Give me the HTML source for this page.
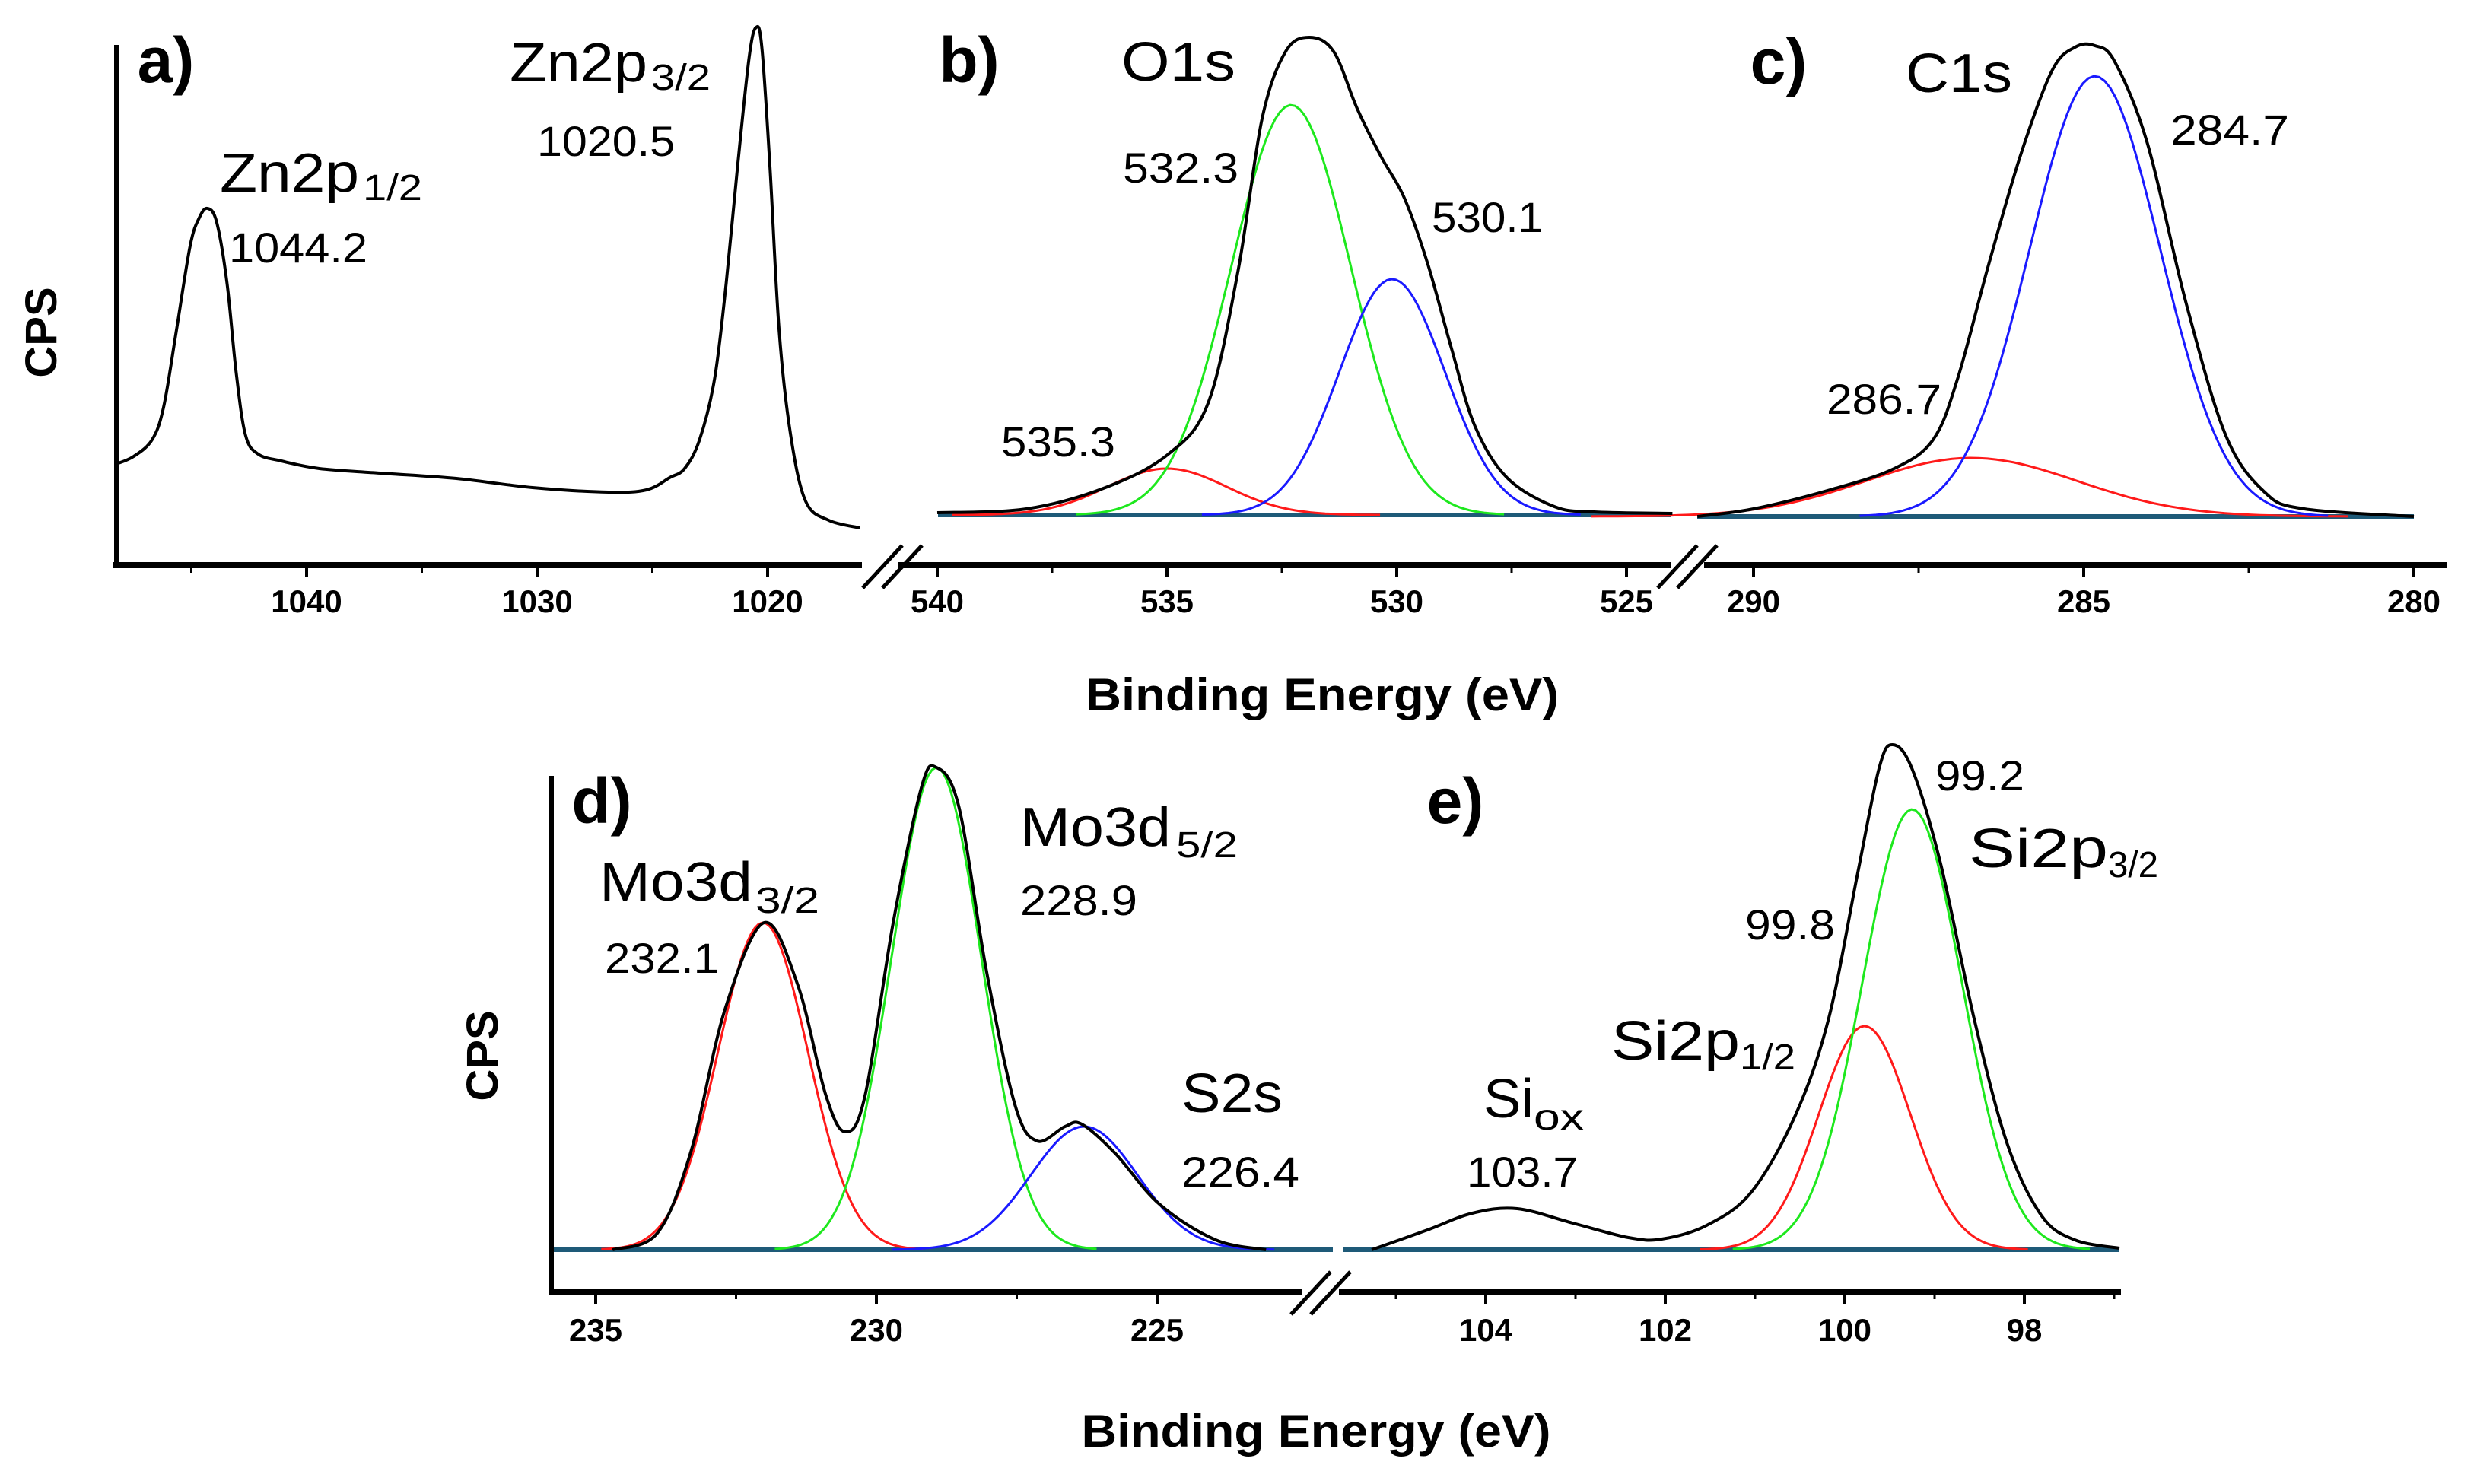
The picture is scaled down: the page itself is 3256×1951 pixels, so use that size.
<!DOCTYPE html>
<html><head><meta charset="utf-8"><title>XPS spectra</title>
<style>html,body{margin:0;padding:0;background:#fff;}svg{display:block;font-family:"Liberation Sans",Arial,sans-serif;}</style>
</head><body>
<svg id="fig" xmlns="http://www.w3.org/2000/svg" width="3256" height="1951" viewBox="0 0 3256 1951">
<rect width="3256" height="1951" fill="#fff"/>
<g id="marks"></g>
<g id="axes"></g>
<g id="texts">
  <text x="218" y="108" font-size="84" font-weight="bold" text-anchor="middle">a)</text>
  <text x="1274" y="108" font-size="84" font-weight="bold" text-anchor="middle">b)</text>
  <text x="2338" y="110" font-size="84" font-weight="bold" text-anchor="middle">c)</text>
  <text x="791" y="1082" font-size="84" font-weight="bold" text-anchor="middle">d)</text>
  <text x="1913" y="1082" font-size="84" font-weight="bold" text-anchor="middle">e)</text>

  <text x="670" y="107" font-size="72" textLength="181" lengthAdjust="spacingAndGlyphs">Zn2p</text>
  <text x="856" y="118" font-size="48" textLength="78" lengthAdjust="spacingAndGlyphs">3/2</text>
  <text x="706" y="205" font-size="56" textLength="181" lengthAdjust="spacingAndGlyphs">1020.5</text>
  <text x="289" y="252" font-size="72" textLength="183" lengthAdjust="spacingAndGlyphs">Zn2p</text>
  <text x="477" y="263" font-size="48" textLength="78" lengthAdjust="spacingAndGlyphs">1/2</text>
  <text x="301" y="345" font-size="56" textLength="182" lengthAdjust="spacingAndGlyphs">1044.2</text>

  <text x="1474" y="106" font-size="72" textLength="150" lengthAdjust="spacingAndGlyphs">O1s</text>
  <text x="1476" y="240" font-size="56" textLength="152" lengthAdjust="spacingAndGlyphs">532.3</text>
  <text x="1882" y="305" font-size="56" textLength="146" lengthAdjust="spacingAndGlyphs">530.1</text>
  <text x="1316" y="600" font-size="56" textLength="150" lengthAdjust="spacingAndGlyphs">535.3</text>

  <text x="2505" y="121" font-size="72" textLength="140" lengthAdjust="spacingAndGlyphs">C1s</text>
  <text x="2853" y="190" font-size="56" textLength="156" lengthAdjust="spacingAndGlyphs">284.7</text>
  <text x="2401" y="544" font-size="56" textLength="151" lengthAdjust="spacingAndGlyphs">286.7</text>

  <text x="788" y="1184" font-size="72" textLength="201" lengthAdjust="spacingAndGlyphs">Mo3d</text>
  <text x="993" y="1200" font-size="48" textLength="84" lengthAdjust="spacingAndGlyphs">3/2</text>
  <text x="795" y="1279" font-size="56" textLength="150" lengthAdjust="spacingAndGlyphs">232.1</text>
  <text x="1341" y="1112" font-size="72" textLength="198" lengthAdjust="spacingAndGlyphs">Mo3d</text>
  <text x="1546" y="1127" font-size="48" textLength="81" lengthAdjust="spacingAndGlyphs">5/2</text>
  <text x="1341" y="1203" font-size="56" textLength="154" lengthAdjust="spacingAndGlyphs">228.9</text>
  <text x="1553" y="1462" font-size="72" textLength="133" lengthAdjust="spacingAndGlyphs">S2s</text>
  <text x="1553" y="1560" font-size="56" textLength="155" lengthAdjust="spacingAndGlyphs">226.4</text>

  <text x="1950" y="1469" font-size="72" textLength="66" lengthAdjust="spacingAndGlyphs">Si</text>
  <text x="2016" y="1485" font-size="48" textLength="66" lengthAdjust="spacingAndGlyphs">ox</text>
  <text x="1928" y="1560" font-size="56" textLength="146" lengthAdjust="spacingAndGlyphs">103.7</text>
  <text x="2544" y="1039" font-size="56" textLength="117" lengthAdjust="spacingAndGlyphs">99.2</text>
  <text x="2588" y="1140" font-size="72" textLength="183" lengthAdjust="spacingAndGlyphs">Si2p</text>
  <text x="2771" y="1153" font-size="48" textLength="66" lengthAdjust="spacingAndGlyphs">3/2</text>
  <text x="2294" y="1235" font-size="56" textLength="118" lengthAdjust="spacingAndGlyphs">99.8</text>
  <text x="2118" y="1393" font-size="72" textLength="169" lengthAdjust="spacingAndGlyphs">Si2p</text>
  <text x="2287" y="1406" font-size="48" textLength="73" lengthAdjust="spacingAndGlyphs">1/2</text>

  <text x="1738" y="934" font-size="60" font-weight="bold" text-anchor="middle" textLength="622" lengthAdjust="spacingAndGlyphs">Binding Energy (eV)</text>
  <text x="1730" y="1902" font-size="60" font-weight="bold" text-anchor="middle" textLength="617" lengthAdjust="spacingAndGlyphs">Binding Energy (eV)</text>
  <text transform="translate(74,437) rotate(-90)" font-size="58" font-weight="bold" text-anchor="middle">CPS</text>
  <text transform="translate(654,1388) rotate(-90)" font-size="58" font-weight="bold" text-anchor="middle">CPS</text>
</g>
</svg>
<script>
// ---------- data (energies in eV, intensities in arbitrary counts) ----------
// Panel a: Zn2p raw envelope
const znEnergy = [1048.25,1047.5,1046.7,1046.2,1045.65,1045.05,1044.65,1044.3,1043.9,1043.45,1043.05,1042.65,1042.1,1041.1,1039.45,1036.8,1033.5,1030.2,1026.9,1025.25,1024.25,1023.6,1022.95,1022.3,1021.8,1021.3,1020.8,1020.5,1020.25,1019.9,1019.5,1019.0,1018.35,1017.35,1016.0];
const znCounts = [90,100,122,165,265,377,414,426,408,327,209,128,103,94,84,78,71,59,53,56,72,84,122,202,327,482,625,664,638,482,265,128,41,16,6];
// Panel b: O1s envelope
const oEnergy = [540,538.06,536.34,534.97,534.1,533.45,532.93,532.42,531.9,531.37,530.86,530.35,529.83,529.32,528.8,528.3,527.6,526.57,525.7,524.0];
const oCounts = [3,8,36,80,148,322,521,609,628,609,534,472,416,329,217,117,49,11,4,2];
const oCenters = [535.0,532.3,530.1];
const oHeights = [61,539,310];
const oWidths = [1.3,1.3,1.15];
// Panel c: C1s envelope
const cEnergy = [290.85,290.0,288.84,287.87,287.28,286.91,286.44,285.96,285.48,285.13,284.83,284.53,284.04,283.45,282.85,282.26,281.66,280.0];
const cCounts = [0,10,35,63,101,181,331,474,586,617,619,598,492,281,107,32,10,0];
const cCenters = [286.7,284.83];
const cHeights = [77,579];
const cWidths = [1.6,0.99];
// Panel d: Mo3d / S2s envelope
const dEnergy = [234.7,233.9,233.3,232.7,232.0,231.4,230.9,230.55,230.2,229.7,229.2,228.93,228.53,228.04,227.53,227.14,226.64,226.34,225.75,224.96,223.96,223.06];
const dCounts = [0,22,130,315,430,348,203,155,203,430,607,634,582,367,190,143,162,165,127,60,13,0];
const dCenters = [232.02,228.93,226.3];
const dHeights = [430,634,162];
const dWidths = [0.8,0.8,0.95];
// Panel e: Si2p envelope
const eEnergy = [105.27,104.65,104.15,103.65,103.03,102.41,102.04,101.54,101.04,100.55,100.18,99.86,99.62,99.47,99.25,98.93,98.56,98.19,97.81,97.44,96.94];
const eCounts = [0,26,48,54,35,16,14,32,76,177,304,493,632,664,632,506,304,139,45,13,2];
const eCenters = [99.78,99.25];
const eHeights = [294,579];
const eWidths = [0.51,0.555];
// tick values
const ticksA = [1040,1030,1020]; const minorA = [1045,1035,1025];
const ticksB = [540,535,530,525]; const minorB = [537.5,532.5,527.5];
const ticksC = [290,285,280]; const minorC = [287.5,282.5];
const ticksD = [235,230,225]; const minorD = [232.5,227.5];
const ticksE = [104,102,100,98]; const minorE = [105,103,101,99,97];

// ---------- scales ----------
const NS = 'http://www.w3.org/2000/svg';
const xA = e => 403 + (1040 - e) * 30.3;
const xB = e => 1232 + (540 - e) * 60.4;
const xC = e => 2305 + (290 - e) * 86.8;
const xD = e => 783 + (235 - e) * 73.8;
const xE = e => 1953 + (104 - e) * 118;
const yA = v => 700 - v;
const yB = v => 677 - v;
const yC = v => 679 - v;
const yD = v => 1643 - v;
const yE = v => 1643 - v;

const marks = document.getElementById('marks');
const axes = document.getElementById('axes');

function smooth(pts) {
  let d = 'M' + pts[0][0].toFixed(1) + ',' + pts[0][1].toFixed(1);
  for (let i = 0; i < pts.length - 1; i++) {
    const p0 = pts[i - 1] || pts[i], p1 = pts[i], p2 = pts[i + 1], p3 = pts[i + 2] || p2;
    const c1 = [p1[0] + (p2[0] - p0[0]) / 6, p1[1] + (p2[1] - p0[1]) / 6];
    const c2 = [p2[0] - (p3[0] - p1[0]) / 6, p2[1] - (p3[1] - p1[1]) / 6];
    d += 'C' + c1[0].toFixed(1) + ',' + c1[1].toFixed(1) + ' ' + c2[0].toFixed(1) + ',' + c2[1].toFixed(1) + ' ' + p2[0].toFixed(1) + ',' + p2[1].toFixed(1);
  }
  return d;
}
function addPath(parent, d, stroke, w) {
  const p = document.createElementNS(NS, 'path');
  p.setAttribute('d', d);
  p.setAttribute('fill', 'none');
  p.setAttribute('stroke', stroke);
  p.setAttribute('stroke-width', w);
  p.setAttribute('stroke-linejoin', 'round');
  parent.appendChild(p);
  return p;
}
function addLine(parent, x1, y1, x2, y2, stroke, w) {
  const l = document.createElementNS(NS, 'line');
  l.setAttribute('x1', x1); l.setAttribute('y1', y1);
  l.setAttribute('x2', x2); l.setAttribute('y2', y2);
  l.setAttribute('stroke', stroke); l.setAttribute('stroke-width', w);
  parent.appendChild(l);
  return l;
}
function envelope(E, V, xs, ys, name) {
  const pts = E.map((e, i) => [xs(e), ys(V[i])]);
  const p = addPath(marks, smooth(pts), '#000', 4);
  
  
}
const colors = ['#ff1a1a', '#1ee81e', '#1a1aff'];
function components(C, H, W, cols, xs, ys, name) {
  C.forEach((c, k) => {
    const pts = [];
    for (let e = c + 3.6 * W[k]; e >= c - 3.6 * W[k]; e -= W[k] / 12) {
      pts.push([xs(e), ys(H[k] * Math.exp(-((e - c) ** 2) / (2 * W[k] * W[k])))]);
    }
    const p = addPath(marks, 'M' + pts.map(q => q[0].toFixed(1) + ',' + q[1].toFixed(1)).join('L'), cols[k], 3);
    
    
  });
}
function baseline(x1, x2, y, name) {
  const l = addLine(marks, x1, y, x2, y, '#1e5a78', 6);
  
  
}

baseline(1233, 2197, 677, 'o1s-baseline');
baseline(2231, 3173, 679, 'c1s-baseline');
baseline(725, 1752, 1643, 'mo3d-baseline');
baseline(1766, 2786, 1643, 'si2p-baseline');

components(oCenters, oHeights, oWidths, [colors[0], colors[1], colors[2]], xB, yB, 'o1s');
components(cCenters, cHeights, cWidths, [colors[0], colors[2]], xC, yC, 'c1s');
components(dCenters, dHeights, dWidths, [colors[0], colors[1], colors[2]], xD, yD, 'mo3d');
components(eCenters, eHeights, eWidths, [colors[0], colors[1]], xE, yE, 'si2p');

envelope(znEnergy, znCounts, xA, yA, 'zn2p-spectrum');
envelope(oEnergy, oCounts, xB, yB, 'o1s-envelope');
envelope(cEnergy, cCounts, xC, yC, 'c1s-envelope');
envelope(dEnergy, dCounts, xD, yD, 'mo3d-envelope');
envelope(eEnergy, eCounts, xE, yE, 'si2p-envelope');

function axisLine(x1, x2, y, name) {
  const l = addLine(axes, x1, y, x2, y, '#000', 8);
  
  
}
axisLine(149, 1133, 743, 'x-axis-a');
axisLine(1180, 2197, 743, 'x-axis-b');
axisLine(2240, 3216, 743, 'x-axis-c');
axisLine(721, 1712, 1698, 'x-axis-d');
axisLine(1760, 2788, 1698, 'x-axis-e');
const ya = addLine(axes, 153, 59, 153, 747, '#000', 6);


const yd = addLine(axes, 725, 1020, 725, 1702, '#000', 6);



function breakMark(cx, cy, name) {
  [-13, 13].forEach(off => {
    const l = addLine(axes, cx + off - 26, cy + 28, cx + off + 26, cy - 28, '#000', 5);
    
    
  });
}
breakMark(1173, 745, 'axis-break-ab');
breakMark(2218, 745, 'axis-break-bc');
breakMark(1736, 1700, 'axis-break-de');

function ticks(major, minor, xs, y, labelY, name) {
  major.forEach(v => {
    const t = addLine(axes, xs(v), y, xs(v), y + 16, '#000', 4);
    
    
    const tx = document.createElementNS(NS, 'text');
    tx.setAttribute('x', xs(v)); tx.setAttribute('y', labelY);
    tx.setAttribute('font-size', '42'); tx.setAttribute('font-weight', 'bold');
    tx.setAttribute('text-anchor', 'middle');
    tx.textContent = String(v);
    
    
    axes.appendChild(tx);
  });
  minor.forEach(v => {
    const t = addLine(axes, xs(v), y, xs(v), y + 10, '#000', 3);
    
    
  });
}
ticks(ticksA, minorA, xA, 743, 805, 'zn2p-axis');
ticks(ticksB, minorB, xB, 743, 805, 'o1s-axis');
ticks(ticksC, minorC, xC, 743, 805, 'c1s-axis');
ticks(ticksD, minorD, xD, 1698, 1763, 'mo3d-axis');
ticks(ticksE, minorE, xE, 1698, 1763, 'si2p-axis');
</script>
</body></html>
